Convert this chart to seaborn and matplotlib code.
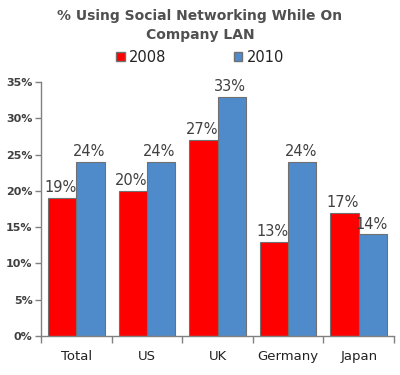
import matplotlib
matplotlib.use("Agg")
import matplotlib.pyplot as plt
import seaborn as sns
import pandas as pd
from matplotlib.patches import Patch

categories = ["Total", "US", "UK", "Germany", "Japan"]
years = ["2008", "2010"]
values_2008 = [19, 20, 27, 13, 17]
values_2010 = [24, 24, 33, 24, 14]
yticks = [0, 5, 10, 15, 20, 25, 30, 35]
colors = ["#FF0000", "#4F8BCB"]

df = pd.DataFrame({
    "Country": categories * 2,
    "Year": [years[0]] * len(categories) + [years[1]] * len(categories),
    "Value": values_2008 + values_2010,
})

sns.set_style("white")
plt.rcParams["font.family"] = ["DejaVu Sans"]
txt = "#404040"

fig = plt.figure(figsize=(4, 3.75), dpi=100)
ax = fig.add_axes([0.1025, 0.104, 0.8825, 0.677])

sns.barplot(data=df, x="Country", y="Value", hue="Year", palette=colors, saturation=1,
            width=0.8, edgecolor="#707070", linewidth=0.8, ax=ax, legend=False)

for cont in ax.containers:
    for bar in cont:
        h = bar.get_height()
        ax.text(bar.get_x() + bar.get_width() / 2 - 1.5 / 70, h + 0.4, f"{h:.0f}%",
                ha="center", va="bottom", fontsize=10.5, color=txt)

ax.set_ylim(0, 35)
ax.set_xlim(-0.5, 4.5)
ax.set_yticks(yticks)
ax.set_yticklabels([f"{t}%" for t in yticks], fontsize=8, fontweight="bold", color=txt)
ax.set_xticks([x - 0.5 for x in range(6)], minor=False)
ax.set_xticklabels([])
ax.set_xticks(range(5), minor=True)
ax.set_xticklabels(categories, minor=True, fontsize=9.5, color="#222222")
ax.tick_params(axis="x", which="minor", bottom=False, length=0, pad=10)
ax.tick_params(axis="x", which="major", bottom=True, length=5, width=1, color="#808080", direction="out")
ax.tick_params(axis="y", left=True, length=4, width=1, color="#808080", direction="out", pad=2)
ax.set_xlabel("")
ax.set_ylabel("")
for s in ["top", "right"]:
    ax.spines[s].set_visible(False)
for s in ["left", "bottom"]:
    ax.spines[s].set_color("#808080")
    ax.spines[s].set_linewidth(1)

fig.text(0.5, 0.975, "% Using Social Networking While On\nCompany LAN", ha="center", va="top",
         fontsize=10, fontweight="bold", color="#505050", linespacing=1.45)
handles = [Patch(facecolor=colors[0], edgecolor="#707070", label=years[0]),
           Patch(facecolor=colors[1], edgecolor="#707070", label=years[1])]
fig.legend(handles=handles, loc="center", bbox_to_anchor=(0.5, 0.848), ncol=2, frameon=False,
           fontsize=10.5, handlelength=0.6, handleheight=0.6, handletextpad=0.3,
           columnspacing=4.6, labelcolor="#222222")

fig.savefig("out.png", dpi=100)
